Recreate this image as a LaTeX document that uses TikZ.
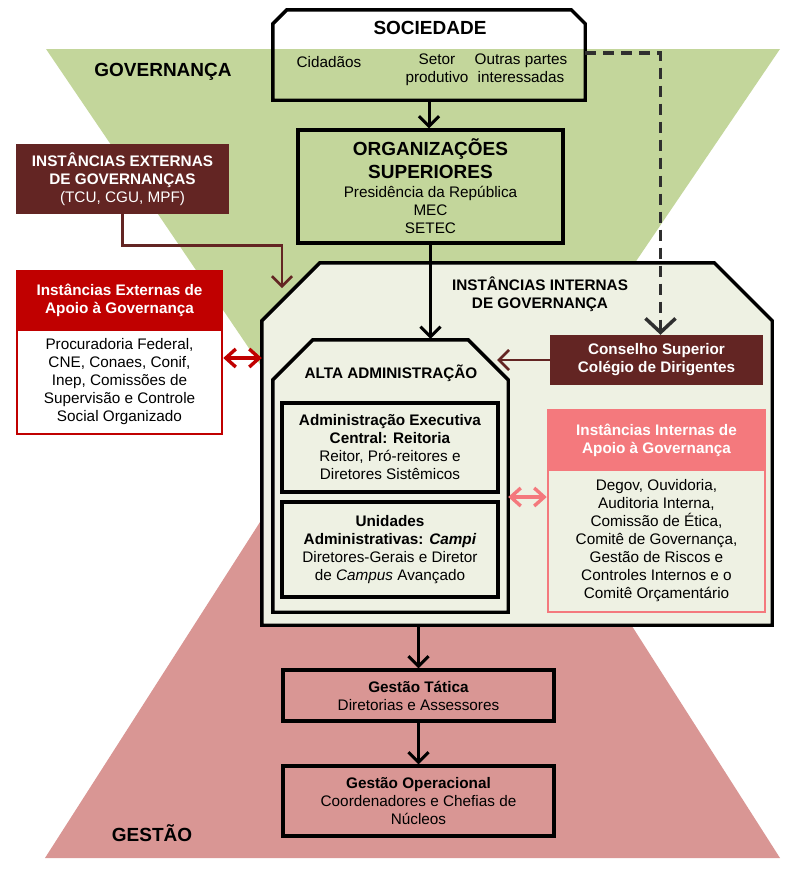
\documentclass[tikz,border=0pt]{standalone}
\usepackage{fontspec}
\setmainfont{Liberation Sans}
\usetikzlibrary{arrows.meta}
\definecolor{gov}{HTML}{C3D69B}
\definecolor{ges}{HTML}{D99694}
\definecolor{brn}{HTML}{632523}
\definecolor{redh}{HTML}{C00000}
\definecolor{pinkh}{HTML}{F4797D}
\definecolor{pale}{HTML}{EEF1E3}
\definecolor{dashc}{HTML}{2F2F2F}
\newcommand\bigfnt{\bfseries\fontsize{19}{22}\selectfont}
\begin{document}
\begin{tikzpicture}[x=1pt,y=-1pt,
  every node/.style={font=\fontsize{15.3}{18}\selectfont, align=center, inner sep=0pt},
  blk/.style={draw=black, line width=3.4pt, rectangle},
  outl/.style={draw=black, line width=3.4pt, line join=miter},
  bigtxt/.style={font=\bigfnt},
  hd/.style={font=\bfseries\fontsize{15.3}{18}\selectfont},
  arr/.style={draw=black, line width=3pt, -{Straight Barb[length=10pt,width=20pt]}},
  brarr/.style={draw=brn, line width=2.6pt, -{Straight Barb[length=10pt,width=20pt]}},
  dasharr/.style={draw=dashc, line width=3.5pt, dash pattern=on 11pt off 7pt, -{Straight Barb[length=14pt,width=30pt]}},
  redarr/.style={draw=redh, line width=3.4pt, {Straight Barb[length=10pt,width=18pt]}-{Straight Barb[length=10pt,width=18pt]}},
  pinkarr/.style={draw=pinkh, line width=3.4pt, {Straight Barb[length=10pt,width=18pt]}-{Straight Barb[length=10pt,width=18pt]}}
]
\path[use as bounding box] (0,0) rectangle (800,870);
% background triangles
\fill[gov] (46,49) -- (780,49) -- (413,590) -- cycle;
\fill[ges] (45,858) -- (780,858) -- (413,283) -- cycle;
\node[bigtxt] (lgov) at (163,72) {GOVERNANÇA};
\node[bigtxt] (lges) at (152,833) {GESTÃO};

% Sociedade
\node[minimum width=312pt, minimum height=90pt] (soc) at (429,55) {};
\draw[outl] (soc.south west) -- ([yshift=-14pt]soc.north west) -- ([xshift=14pt]soc.north west)
  -- ([xshift=-14pt]soc.north east) -- ([yshift=-14pt]soc.north east) -- (soc.south east) -- cycle;
\node[bigtxt] (soct) at (430,28) {SOCIEDADE};
\node (cid) at (329,62) {Cidadãos};
\node (setor) at (437,70) {Setor\\produtivo};
\node (outras) at (521,68) {Outras partes\\interessadas};

% Organizacoes superiores
\node[blk, fill=gov, minimum width=265pt, minimum height=113pt] (org) at (430.5,186.5)
  {{\bigfnt ORGANIZAÇÕES}\\[5pt]{\bigfnt SUPERIORES}\\[1pt]Presidência da República\\MEC\\SETEC};

% Instancias externas de governanca
\node[fill=brn, text=white, minimum width=213pt, minimum height=70pt] (ieg) at (122.5,179)
  {\textbf{INSTÂNCIAS EXTERNAS}\\\textbf{DE GOVERNANÇAS}\\(TCU, CGU, MPF)};

% Instancias externas de apoio
\node[fill=redh, draw=redh, line width=2.5pt, text=white, hd, minimum width=205pt, minimum height=59pt] (iea) at (119.5,300.5)
  {Instâncias Externas de\\Apoio à Governança};
\node[fill=white, draw=redh, line width=2.5pt, minimum width=205pt, minimum height=104pt] (iebody) at (119.5,382)
  {Procuradoria Federal,\\CNE, Conaes, Conif,\\Inep, Comissões de\\Supervisão e Controle\\Social Organizado};

% Big internal box
\node[minimum width=510pt, minimum height=362pt] (big) at (517,444) {};
\filldraw[outl, fill=pale] (big.south west) -- ([yshift=-58pt]big.north west) -- ([xshift=58pt]big.north west)
  -- ([xshift=-58pt]big.north east) -- ([yshift=-58pt]big.north east) -- (big.south east) -- cycle;
\node[hd] (bigt) at (540,294) {INSTÂNCIAS INTERNAS\\DE GOVERNANÇA};

% Alta administracao
\node[minimum width=235pt, minimum height=272pt] (alta) at (390.5,476) {};
\draw[outl] (alta.south west) -- ([yshift=-40pt]alta.north west) -- ([xshift=40pt]alta.north west)
  -- ([xshift=-40pt]alta.north east) -- ([yshift=-40pt]alta.north east) -- (alta.south east) -- cycle;
\node[hd] (altat) at (391,373) {ALTA ADMINISTRAÇÃO};
\node[blk, minimum width=216pt, minimum height=89pt] (aex) at (390,447.5)
  {\textbf{Administração Executiva}\\\textbf{Central: Reitoria}\\Reitor, Pró-reitores e\\Diretores Sistêmicos};
\node[blk, minimum width=216pt, minimum height=95pt] (uni) at (390,549.5)
  {\textbf{Unidades}\\\textbf{Administrativas: \textit{Campi}}\\Diretores-Gerais e Diretor\\de \textit{Campus} Avançado};

% Conselho superior
\node[fill=brn, text=white, hd, minimum width=213pt, minimum height=50pt] (cons) at (656.5,360)
  {Conselho Superior\\Colégio de Dirigentes};

% Instancias internas de apoio
\node[fill=pinkh, draw=pinkh, line width=2.5pt, text=white, hd, minimum width=217pt, minimum height=60pt] (iia) at (656.5,440)
  {Instâncias Internas de\\Apoio à Governança};
\node[fill=pale, draw=pinkh, line width=2.5pt, minimum width=217pt, minimum height=142pt] (iiabody) at (656.5,541)
  {Degov, Ouvidoria,\\Auditoria Interna,\\Comissão de Ética,\\Comitê de Governança,\\Gestão de Riscos e\\Controles Internos e o\\Comitê Orçamentário};

% Gestao
\node[blk, minimum width=271pt, minimum height=51pt] (gt) at (418.5,695.5)
  {\textbf{Gestão Tática}\\Diretorias e Assessores};
\node[blk, minimum width=271pt, minimum height=70pt] (go) at (418.5,801)
  {\textbf{Gestão Operacional}\\Coordenadores e Chefias de\\Núcleos};

% connectors
\coordinate (iegend) at (282,288);
\draw[arr] (soc.south) -- (soc.south |- org.north);
\draw[arr] (org.south) -- ([yshift=1pt]org.south |- alta.north);
\draw[dasharr] ([yshift=2pt]soc.east) -| ([xshift=4pt]cons.north);
\draw[brarr] (ieg.south) -- ++(0,31) -| (iegend);
\draw[brarr] (cons.west) -- ([xshift=-11pt]cons.west -| alta.east);
\draw[redarr] ([yshift=24pt]iebody.east) -- ([yshift=24pt]iebody.east -| big.west);
\draw[pinkarr] ([yshift=-21pt]alta.east) -- ([yshift=-21pt]alta.east -| iiabody.west);
\draw[arr] (gt.north |- big.south) -- (gt.north);
\draw[arr] (gt.south) -- (go.north);
\end{tikzpicture}
\end{document}
